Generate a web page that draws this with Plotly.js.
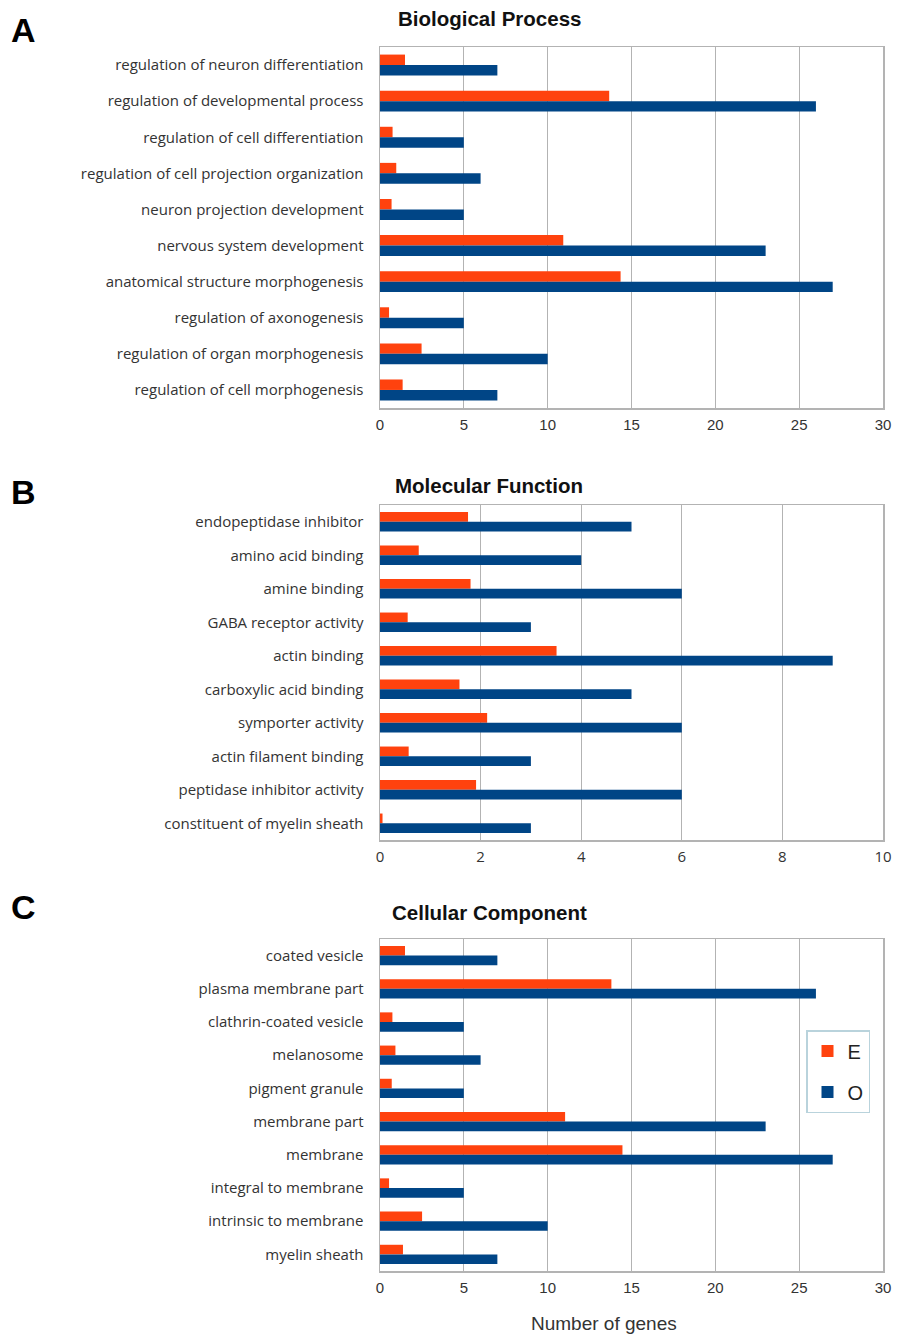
<!DOCTYPE html>
<html>
<head>
<meta charset="utf-8">
<script src="https://cdn.plot.ly/plotly-3.0.1.min.js"></script>
<style>html,body{margin:0;padding:0;background:#fff;}#chart{width:912px;height:1335px;}</style>
</head>
<body>
<div id="chart"></div>
<script>
// ---- Data ----
var bpCategories = ["regulation of neuron differentiation","regulation of developmental process","regulation of cell differentiation","regulation of cell projection organization","neuron projection development","nervous system development","anatomical structure morphogenesis","regulation of axonogenesis","regulation of organ morphogenesis","regulation of cell morphogenesis"];
var bpE = [1.49, 13.67, 0.75, 0.97, 0.69, 10.93, 14.35, 0.54, 2.48, 1.35];
var bpO = [7, 26, 5, 6, 5, 23, 27, 5, 10, 7];

var mfCategories = ["endopeptidase inhibitor","amino acid binding","amine binding","GABA receptor activity","actin binding","carboxylic acid binding","symporter activity","actin filament binding","peptidase inhibitor activity","constituent of myelin sheath"];
var mfE = [1.75, 0.77, 1.80, 0.55, 3.51, 1.58, 2.13, 0.57, 1.91, 0.05];
var mfO = [5, 4, 6, 3, 9, 5, 6, 3, 6, 3];

var ccCategories = ["coated vesicle","plasma membrane part","clathrin-coated vesicle","melanosome","pigment granule","membrane part","membrane","integral to membrane","intrinsic to membrane","myelin sheath"];
var ccE = [1.49, 13.8, 0.74, 0.92, 0.70, 11.04, 14.46, 0.54, 2.51, 1.37];
var ccO = [7, 26, 5, 6, 5, 23, 27, 5, 10, 7];

var panelTitles = ["Biological Process", "Molecular Function", "Cellular Component"];
var panelLetters = ["A", "B", "C"];
var seriesNames = ["E", "O"];
var xAxisTitle = "Number of genes";

// ---- Styles ----
var colE = "#ff420e", colO = "#004586";
var W = 912, H = 1335;
function fy(px){ return 1 - px / H; }
function fx(px){ return px / W; }

var panels = [
  {cats: bpCategories, e: bpE, o: bpO, top: 47, bot: 408, range: [0, 30], dtick: 5, tickFont: "Liberation Sans, Arial, sans-serif", titleY: 18, letterY: 30},
  {cats: mfCategories, e: mfE, o: mfO, top: 505, bot: 840, range: [0, 10], dtick: 2, tickFont: "Open Sans, sans-serif", titleY: 485, letterY: 492},
  {cats: ccCategories, e: ccE, o: ccO, top: 939, bot: 1271, range: [0, 30], dtick: 5, tickFont: "Liberation Sans, Arial, sans-serif", titleY: 912, letterY: 907}
];

var data = [];
var layout = {
  width: W, height: H,
  margin: {l: 0, r: 0, t: 0, b: 0},
  paper_bgcolor: "#fff", plot_bgcolor: "#fff",
  barmode: "group", bargap: 0.42, bargroupgap: 0.0,
  showlegend: true,
  legend: {
    x: fx(806), y: fy(1030), xanchor: "left", yanchor: "top",
    bordercolor: "#b9d3dc", borderwidth: 1.5, bgcolor: "#fff",
    font: {family: "Liberation Sans, Arial, sans-serif", size: 20, color: "#222"},
    traceorder: "grouped", itemwidth: 30, tracegroupgap: 12
  },
  annotations: [],
  font: {family: "Open Sans, sans-serif", color: "#333"}
};

var xDomain = [fx(380), fx(883)];

panels.forEach(function(p, i){
  var ax = i === 0 ? "" : String(i + 1);
  data.push({
    type: "bar", orientation: "h", name: seriesNames[0], y: p.cats, x: p.e,
    xaxis: "x" + ax, yaxis: "y" + ax, marker: {color: colE, line: {width: 0}},
    showlegend: i === 2, legendgroup: "E", hoverinfo: "x+y"
  });
  data.push({
    type: "bar", orientation: "h", name: seriesNames[1], y: p.cats, x: p.o,
    xaxis: "x" + ax, yaxis: "y" + ax, marker: {color: colO, line: {width: 0}},
    showlegend: i === 2, legendgroup: "O", hoverinfo: "x+y"
  });
  layout["xaxis" + ax] = {
    domain: xDomain, anchor: "y" + ax, range: p.range, dtick: p.dtick, tick0: 0,
    showgrid: true, gridcolor: "#b3b3b3", gridwidth: 1.2,
    showline: true, linecolor: "#b3b3b3", linewidth: 1.5, mirror: true,
    zeroline: false, ticks: "", ticklabelstandoff: 2,
    tickfont: {family: p.tickFont, size: 15, color: "#333"},
    fixedrange: true
  };
  layout["yaxis" + ax] = {
    domain: [fy(p.bot), fy(p.top)], anchor: "x" + ax,
    type: "category", autorange: "reversed",
    showgrid: false, showline: true, linecolor: "#b3b3b3", linewidth: 1.5, mirror: true,
    ticks: "", ticklabelstandoff: 12,
    tickfont: {family: "Open Sans, sans-serif", size: 15, color: "#333"},
    fixedrange: true
  };
  layout.annotations.push({
    text: "<b>" + panelTitles[i] + "</b>", xref: "paper", yref: "paper",
    x: fx(489), y: fy(p.titleY), xanchor: "center", yanchor: "middle",
    showarrow: false, font: {family: "Liberation Sans, Arial, sans-serif", size: 20.5, color: "#111"}
  });
  layout.annotations.push({
    text: "<b>" + panelLetters[i] + "</b>", xref: "paper", yref: "paper",
    x: fx(9), y: fy(p.letterY), xanchor: "left", yanchor: "middle",
    showarrow: false, font: {family: "Liberation Sans, Arial, sans-serif", size: 34, color: "#000"}
  });
});

layout.annotations.push({
  text: xAxisTitle, xref: "paper", yref: "paper",
  x: fx(604), y: fy(1323), xanchor: "center", yanchor: "middle",
  showarrow: false, font: {family: "Liberation Sans, Arial, sans-serif", size: 19, color: "#333"}
});

Plotly.newPlot("chart", data, layout, {displayModeBar: false, staticPlot: true});
</script>
</body>
</html>
